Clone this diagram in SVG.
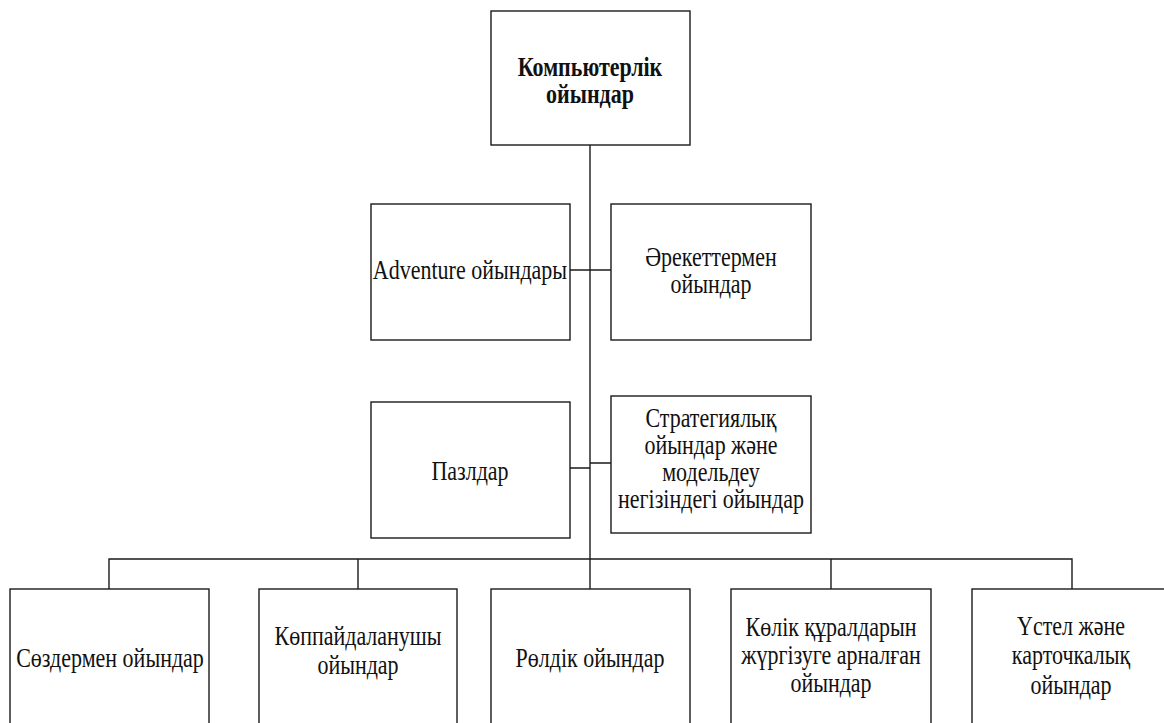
<svg xmlns="http://www.w3.org/2000/svg" width="1164" height="723" viewBox="0 0 1164 723">
<style>
.box{fill:#fff;stroke:#1a1a1a;stroke-width:1.4}
.ln{fill:none;stroke:#1a1a1a;stroke-width:1.4}
.t{font-family:"Liberation Serif","Times New Roman",serif;font-size:22px;text-anchor:middle;fill:#111}
.b{font-weight:bold}
</style>
<rect width="1164" height="723" fill="#fff"/>
<g id="connectors">
<path class="ln" d="M590 145V589"/>
<path class="ln" d="M570 270H611"/>
<path class="ln" d="M570 468H590M590 463H611"/>
<path class="ln" d="M109 589V559H1072V589"/>
<path class="ln" d="M358 559V589M831 559V589"/>
</g>
<g id="n-root">
<rect class="box" x="491" y="11" width="199" height="134"/>
<text class="t b" transform="translate(590,76) scale(1,1.2)">Компьютерлік</text>
<text class="t b" transform="translate(590,103) scale(1,1.2)">ойындар</text>
</g>
<g id="n-adventure">
<rect class="box" x="371" y="204" width="199" height="136"/>
<text class="t" transform="translate(470,279) scale(1,1.2)">Adventure ойындары</text>
</g>
<g id="n-action">
<rect class="box" x="611" y="204" width="200" height="136"/>
<text class="t" transform="translate(711,266) scale(1,1.2)">Әрекеттермен</text>
<text class="t" transform="translate(711,293) scale(1,1.2)">ойындар</text>
</g>
<g id="n-puzzle">
<rect class="box" x="371" y="402" width="199" height="136"/>
<text class="t" transform="translate(470,480) scale(1,1.2)">Пазлдар</text>
</g>
<g id="n-strategy">
<rect class="box" x="611" y="396" width="200" height="137"/>
<text class="t" transform="translate(711,427) scale(1,1.2)">Стратегиялық</text>
<text class="t" transform="translate(711,454) scale(1,1.2)">ойындар және</text>
<text class="t" transform="translate(711,481) scale(1,1.2)">модельдеу</text>
<text class="t" transform="translate(711,508) scale(1,1.2)">негізіндегі ойындар</text>
</g>
<g id="n-words">
<rect class="box" x="10" y="589" width="199" height="160"/>
<text class="t" transform="translate(110,667) scale(1,1.2)">Сөздермен ойындар</text>
</g>
<g id="n-multi">
<rect class="box" x="259" y="589" width="198" height="160"/>
<text class="t" transform="translate(358,645) scale(1,1.2)">Көппайдаланушы</text>
<text class="t" transform="translate(358,674) scale(1,1.2)">ойындар</text>
</g>
<g id="n-role">
<rect class="box" x="491" y="589" width="199" height="160"/>
<text class="t" transform="translate(590,667) scale(1,1.2)">Рөлдік ойындар</text>
</g>
<g id="n-vehicle">
<rect class="box" x="731" y="589" width="200" height="160"/>
<text class="t" transform="translate(831,636) scale(1,1.2)">Көлік құралдарын</text>
<text class="t" transform="translate(831,664) scale(1,1.2)">жүргізуге арналған</text>
<text class="t" transform="translate(831,692) scale(1,1.2)">ойындар</text>
</g>
<g id="n-table">
<rect class="box" x="972" y="589" width="199" height="160"/>
<text class="t" transform="translate(1071,635) scale(1,1.2)">Үстел және</text>
<text class="t" transform="translate(1071,664) scale(1,1.2)">карточкалық</text>
<text class="t" transform="translate(1071,694) scale(1,1.2)">ойындар</text>
</g>
</svg>
